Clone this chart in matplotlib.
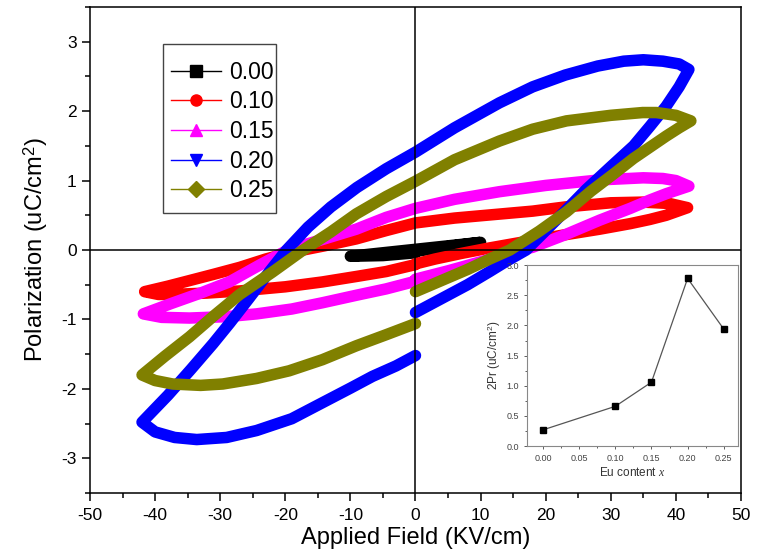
#!/usr/bin/env python3
import matplotlib
matplotlib.use('Agg')
import matplotlib.pyplot as plt
from matplotlib.lines import Line2D
from matplotlib.patches import Rectangle
from matplotlib.ticker import MultipleLocator

plt.rcParams['font.family'] = ['Liberation Sans', 'DejaVu Sans']
plt.rcParams['mathtext.fontset'] = 'custom'
plt.rcParams['mathtext.rm'] = 'Liberation Sans'
plt.rcParams['mathtext.it'] = 'Liberation Serif:italic'
plt.rcParams['axes.unicode_minus'] = False

# P-E loops, vertices: ascending branch from E=0,
# upper branch from +Emax to -Emax, lower branch back to E=0
labels = ['0.00', '0.10', '0.15', '0.20', '0.25']
colors = ['black', 'red', '#ff00ff', 'blue', '#808000']
markers = ['s', 'o', '^', 'v', 'D']

e_000 = [0, 5, 10, 5, 0, -5, -10, -5, 0]
p_000 = [-0.02, 0.05, 0.11, 0.06, 0.01, -0.04, -0.09, -0.08, -0.04]

e_010 = [0, 3, 7, 11.4, 18, 23, 28.3, 33, 36, 38.5, 41.8,
         39, 35, 30, 23, 18, 12, 6, 0, -4.5, -9.1, -14, -19.4, -23, -27,
         -31, -34.7, -38, -41.6,
         -39.5, -37.3, -32, -27, -20, -14.3, -9, -4.5, 0]
p_010 = [-0.20, -0.13, -0.05, 0.03, 0.14, 0.22, 0.30, 0.38, 0.44, 0.50, 0.61,
         0.67, 0.69, 0.68, 0.62, 0.56, 0.51, 0.46, 0.39, 0.28, 0.16, 0.06,
         -0.04, -0.13, -0.25, -0.35, -0.44, -0.52, -0.60,
         -0.64, -0.64, -0.62, -0.59, -0.53, -0.46, -0.38, -0.31, -0.21]

e_015 = [0, 5, 10, 14, 18, 23, 28.3, 33, 36, 38.5, 42,
         40, 38, 35, 28.3, 20, 12.9, 6, 0, -4.5, -9.1, -14, -19.4, -24,
         -28.6, -33, -37.5, -41.8,
         -39, -34.7, -29, -24.4, -19, -14.3, -9, -4.5, 0]
p_015 = [-0.42, -0.30, -0.17, -0.06, 0.04, 0.22, 0.43, 0.60, 0.72, 0.81, 0.92,
         1.00, 1.03, 1.04, 1.01, 0.93, 0.84, 0.73, 0.60, 0.47, 0.30, 0.16,
         0.01, -0.22, -0.46, -0.62, -0.77, -0.92,
         -0.97, -0.98, -0.96, -0.92, -0.85, -0.76, -0.65, -0.56, -0.45]

e_020 = [0, 4, 8, 11.4, 14, 17, 21.5, 26.2, 30, 33.5, 36, 38.5, 40.5, 42,
         40.5, 38, 35, 32, 28, 23, 18, 12.9, 6, 0, -4.5, -9, -13, -16.5,
         -19.8, -22.5, -25.6, -28.5, -31.1, -34.5, -38, -42,
         -40, -37, -33.6, -29, -24.4, -19, -14.3, -10, -6.6, -3, 0]
p_020 = [-0.90, -0.70, -0.50, -0.31, -0.16, 0.00, 0.42, 0.87, 1.20, 1.50,
         1.78, 2.07, 2.35, 2.60,
         2.68, 2.72, 2.74, 2.72, 2.65, 2.52, 2.35, 2.12, 1.76, 1.41, 1.17,
         0.90, 0.62, 0.33, 0.00, -0.32, -0.70, -1.05, -1.35, -1.72, -2.09,
         -2.48,
         -2.62, -2.70, -2.73, -2.70, -2.60, -2.43, -2.20, -1.99, -1.82,
         -1.67, -1.52]

e_025 = [0, 4, 8, 11.4, 14.5, 19, 23.2, 27, 30.5, 33.5, 36, 38.5, 40.5, 42.3,
         40, 37, 34.9, 30, 23.2, 18, 12.9, 6, 0, -4.5, -9.1, -13, -17.4, -22,
         -27, -31, -34.7, -38.5, -42,
         -40, -37.3, -33, -29.6, -24.4, -19.4, -14.3, -9.1, -4.5, 0]
p_025 = [-0.60, -0.44, -0.28, -0.13, 0.00, 0.27, 0.55, 0.85, 1.10, 1.32,
         1.48, 1.64, 1.76, 1.86,
         1.94, 1.98, 1.98, 1.94, 1.86, 1.74, 1.57, 1.30, 0.99, 0.77, 0.52,
         0.26, -0.01, -0.32, -0.64, -0.95, -1.25, -1.53, -1.80,
         -1.88, -1.93, -1.95, -1.93, -1.85, -1.74, -1.58, -1.38, -1.22, -1.06]

loops_e = [e_000, e_010, e_015, e_020, e_025]
loops_p = [p_000, p_010, p_015, p_020, p_025]

# inset: 2Pr vs Eu content
eu_x = [0.00, 0.10, 0.15, 0.20, 0.25]
two_pr = [0.27, 0.66, 1.06, 2.78, 1.94]


def main():
    fig = plt.figure(figsize=(7.65, 5.57), dpi=100)
    ax = fig.add_axes([0.1176, 0.1149, 0.851, 0.8725])

    for e, p, c in zip(loops_e, loops_p, colors):
        ax.plot(e, p, color=c, lw=8.3, solid_joinstyle='round',
                solid_capstyle='round')

    ax.axhline(0, color='black', lw=1.1, zorder=5)
    ax.axvline(0, color='black', lw=1.1, zorder=5)

    ax.set_xlim(-50, 50)
    ax.set_ylim(-3.5, 3.5)
    ax.xaxis.set_major_locator(MultipleLocator(10))
    ax.xaxis.set_minor_locator(MultipleLocator(5))
    ax.yaxis.set_major_locator(MultipleLocator(1))
    ax.yaxis.set_minor_locator(MultipleLocator(0.5))
    ax.tick_params(which='both', direction='out', width=1.1,
                   labelsize=12.5, top=False, right=False)
    ax.tick_params(which='major', length=6)
    ax.tick_params(which='minor', length=3.5)
    ax.tick_params(axis='x', which='major', pad=5)
    for s in ax.spines.values():
        s.set_linewidth(1.1)
    ax.set_xlabel('Applied Field (KV/cm)', fontsize=17, labelpad=3)
    ax.set_ylabel('Polarization (uC/cm$^2$)', fontsize=17, labelpad=8)

    # legend box drawn separately, Origin style
    ax.add_patch(Rectangle((0.112, 0.577), 0.1735, 0.3467,
                           transform=ax.transAxes, facecolor='white',
                           edgecolor='#444444', lw=1, zorder=6))
    handles = [Line2D([], [], color=c, marker=m, lw=1, ms=8,
                      markerfacecolor=c, markeredgecolor=c)
               for c, m in zip(colors, markers)]
    leg = ax.legend(handles, labels, loc='center',
                    bbox_to_anchor=(0.203, 0.744), borderaxespad=0,
                    fontsize=16.5, handlelength=2.2, labelspacing=0.29,
                    handletextpad=0.35, borderpad=0, frameon=False)
    leg.set_zorder(7)

    # inset
    ins = fig.add_axes([0.689, 0.199, 0.276, 0.325])
    ins.plot(eu_x, two_pr, color='#555555', lw=0.9, marker='s', ms=5,
             markerfacecolor='black', markeredgecolor='black')
    ins.set_xlim(-0.022, 0.27)
    ins.set_ylim(0, 3.0)
    ins.xaxis.set_major_locator(MultipleLocator(0.05))
    ins.xaxis.set_minor_locator(MultipleLocator(0.025))
    ins.yaxis.set_major_locator(MultipleLocator(0.5))
    ins.yaxis.set_minor_locator(MultipleLocator(0.25))
    ins.set_xticklabels([f'{v:.2f}' for v in ins.get_xticks()])
    ins.set_yticklabels([f'{v:.1f}' for v in ins.get_yticks()])
    ins.tick_params(which='both', direction='out', labelsize=6.5,
                    colors='#444444', width=0.6)
    ins.tick_params(which='major', length=2.5)
    ins.tick_params(which='minor', length=1.5)
    for s in ins.spines.values():
        s.set_color('#888888')
        s.set_linewidth(0.8)
    ins.set_xlabel('Eu content $\\mathit{x}$', fontsize=8.5, labelpad=2,
                   color='#333333')
    ins.set_ylabel('2Pr (uC/cm$^2$)', fontsize=8.5, labelpad=2,
                   color='#333333')

    fig.savefig('out.png', dpi=100)


if __name__ == '__main__':
    main()
